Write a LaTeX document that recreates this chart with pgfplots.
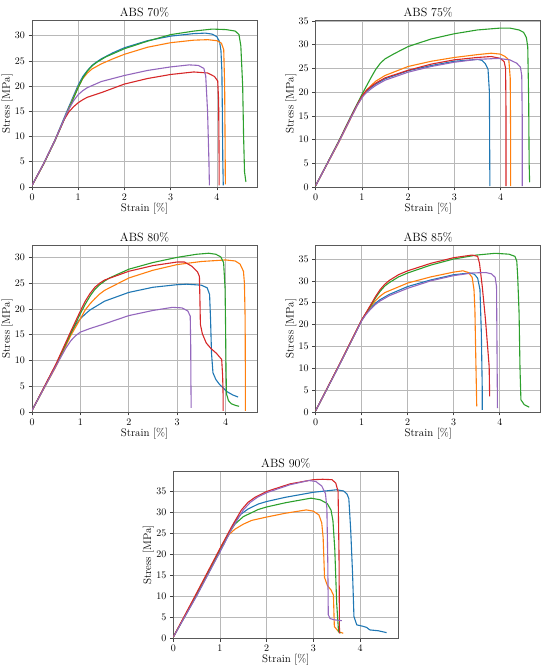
\documentclass[border=0pt]{standalone}
\usepackage{pgfplots}
\pgfplotsset{compat=1.18}
\definecolor{tblue}{HTML}{1F77B4}
\definecolor{torange}{HTML}{FF7F0E}
\definecolor{tgreen}{HTML}{2CA02C}
\definecolor{tred}{HTML}{D62728}
\definecolor{tpurple}{HTML}{9467BD}
\pgfplotsset{
  ss/.style={
    width=225pt, height=167pt, scale only axis,
    anchor=south west,
    xmin=0, ymin=0,
    xtick={0,1,2,3,4},
    grid=major,
    major grid style={color=black!28, line width=0.6pt},
    axis line style={color=black!65, line width=0.8pt},
    tick style={color=black!75, line width=0.6pt},
    tick align=outside,
    major tick length=3.5pt,
    xtick pos=bottom, ytick pos=left,
    tick label style={font=\fontsize{10}{12}\selectfont},
    label style={font=\fontsize{11}{13}\selectfont},
    title style={font=\fontsize{12}{14}\selectfont, yshift=-6.5pt},
    xlabel={Strain [\%]}, ylabel={Stress [MPa]},
    xlabel style={yshift=4.5pt},
    ylabel style={yshift=-4.5pt},
    every axis plot/.append style={line width=1.1pt, mark=none, line join=round},
  }
}
\begin{document}
\begin{tikzpicture}
\useasboundingbox (0,0) rectangle (550pt,670pt);
% ---------------- ABS 70
\begin{axis}[ss, at={(32pt,483pt)}, xmax=4.87, ymax=33.1, ytick={0,5,...,30}, title={ABS 70\%}]
\addplot[tblue] coordinates {(0,0.3) (0.25,4.6) (0.5,9.4) (0.75,14.9) (1.0,20.2) (1.1,21.9) (1.2,23.1) (1.3,24.1) (1.4,24.8) (1.5,25.4) (1.75,26.6) (2,27.6) (2.5,29.0) (3,29.9) (3.5,30.4) (3.75,30.5) (3.9,30.3) (4.0,29.8) (4.06,28.8) (4.09,27) (4.11,23) (4.12,15) (4.13,5) (4.14,0.3)};
\addplot[torange] coordinates {(0,0.3) (0.25,4.5) (0.5,9.3) (0.75,14.6) (1.0,19.8) (1.1,21.5) (1.2,22.6) (1.3,23.4) (1.4,23.9) (1.5,24.4) (1.75,25.4) (2,26.3) (2.5,27.7) (3,28.6) (3.5,29.1) (3.8,29.2) (4.0,29.0) (4.1,28.5) (4.15,27.2) (4.17,20) (4.18,8) (4.185,0.5)};
\addplot[tgreen] coordinates {(0,0.3) (0.25,4.5) (0.5,9.2) (0.75,14.5) (1.0,19.7) (1.1,21.6) (1.2,23.0) (1.3,24.0) (1.4,24.7) (1.6,25.8) (2,27.4) (2.5,28.9) (3,30.2) (3.5,30.9) (3.9,31.3) (4.2,31.2) (4.4,30.9) (4.48,30.2) (4.52,28) (4.56,20) (4.58,10) (4.6,3) (4.63,1)};
\addplot[tred] coordinates {(0,0.3) (0.25,4.6) (0.5,9.3) (0.7,13.4) (0.8,14.9) (0.9,15.9) (1.0,16.7) (1.1,17.3) (1.2,17.8) (1.5,18.7) (2,20.4) (2.5,21.5) (3,22.3) (3.5,22.8) (3.8,22.6) (3.95,21.9) (4.02,21.0) (4.04,17) (4.05,5) (4.05,0.3)};
\addplot[tpurple] coordinates {(0,0.3) (0.25,4.6) (0.5,9.3) (0.75,14.6) (0.9,17.1) (1.0,18.3) (1.1,19.1) (1.2,19.7) (1.5,20.9) (2,22.1) (2.5,23.1) (3,23.8) (3.4,24.2) (3.6,24.1) (3.72,23.5) (3.76,22) (3.8,15) (3.83,5) (3.84,0.3)};
\end{axis}
% ---------------- ABS 75
\begin{axis}[ss, at={(315.7pt,483pt)}, xmax=4.87, ymax=35.2, ytick={0,5,...,35}, title={ABS 75\%}]
\addplot[tblue] coordinates {(0,0.3) (0.5,9.6) (0.8,15.6) (0.9,17.5) (1.0,19.1) (1.05,19.7) (1.1,20.2) (1.2,21.0) (1.3,21.7) (1.5,22.8) (2,24.5) (2.5,25.6) (3,26.5) (3.5,26.9) (3.6,26.7) (3.67,26) (3.73,24.8) (3.76,20) (3.77,0.2)};
\addplot[torange] coordinates {(0,0.3) (0.5,9.4) (0.8,15.3) (0.9,17.2) (1.0,18.9) (1.05,19.7) (1.1,20.4) (1.2,21.4) (1.3,22.3) (1.5,23.5) (2,25.4) (2.5,26.5) (3,27.3) (3.5,27.9) (3.8,28.2) (4.0,28.0) (4.1,27.5) (4.18,26.8) (4.21,23) (4.22,10) (4.22,0.2)};
\addplot[tgreen] coordinates {(0,0.3) (0.5,9.7) (0.8,15.6) (1.0,19.5) (1.1,21.3) (1.2,23.1) (1.3,24.8) (1.4,26.1) (1.5,27.0) (1.7,28.1) (2,29.6) (2.5,31.2) (3,32.3) (3.5,33.1) (4.0,33.5) (4.2,33.5) (4.4,33.1) (4.5,32.6) (4.56,31.5) (4.59,29.5) (4.61,18) (4.62,5) (4.63,1)};
\addplot[tred] coordinates {(0,0.3) (0.5,9.6) (0.8,15.5) (0.9,17.4) (1.0,19.1) (1.05,19.8) (1.1,20.4) (1.2,21.2) (1.3,21.9) (1.5,23.0) (2,24.6) (2.5,25.9) (3,26.8) (3.5,27.3) (3.8,27.5) (4.0,27.1) (4.08,26.4) (4.11,25) (4.12,15) (4.12,0.2)};
\addplot[tpurple] coordinates {(0,0.3) (0.5,9.5) (0.8,15.3) (0.9,17.2) (1.0,18.8) (1.05,19.4) (1.1,19.9) (1.2,20.7) (1.3,21.4) (1.5,22.5) (2,24.2) (2.5,25.4) (3,26.3) (3.5,26.9) (3.95,27.1) (4.2,26.8) (4.35,26.1) (4.43,25.3) (4.46,23.5) (4.47,15) (4.47,0.2)};
\end{axis}
% ---------------- ABS 80
\begin{axis}[ss, at={(32pt,258pt)}, xmax=4.65, ymax=32.4, ytick={0,5,...,30}, title={ABS 80\%}]
\addplot[tblue] coordinates {(0,0.3) (0.5,9.2) (0.8,15.2) (0.9,16.9) (1.0,18.1) (1.1,19.0) (1.2,19.8) (1.5,21.5) (2,23.2) (2.5,24.2) (3,24.7) (3.2,24.8) (3.5,24.6) (3.62,24.1) (3.67,22.8) (3.69,18) (3.71,11.4) (3.74,7.6) (3.8,6.3) (3.88,5.3) (3.95,4.7) (4.02,4.0) (4.15,3.3) (4.26,2.9)};
\addplot[torange] coordinates {(0,0.3) (0.5,8.9) (0.8,14.8) (1.0,18.1) (1.1,19.8) (1.2,21.0) (1.3,22.0) (1.4,22.9) (1.5,23.6) (2,26.0) (2.5,27.5) (3,28.6) (3.5,29.2) (4.0,29.5) (4.2,29.3) (4.3,28.7) (4.37,27.3) (4.39,25) (4.405,18) (4.41,5) (4.41,0.2)};
\addplot[tgreen] coordinates {(0,0.3) (0.5,9.2) (0.8,15.2) (1.0,19.1) (1.1,20.9) (1.2,22.5) (1.3,23.8) (1.4,24.7) (1.5,25.4) (1.6,26.0) (2,27.7) (2.5,29.0) (3,30.0) (3.4,30.6) (3.65,30.8) (3.8,30.6) (3.9,30.1) (3.96,29.0) (3.99,24) (4.0,17) (4.01,8) (4.02,3.5) (4.06,2.2) (4.12,1.6) (4.2,1.3) (4.28,1.1)};
\addplot[tred] coordinates {(0,0.3) (0.5,9.4) (0.8,15.6) (1.0,19.6) (1.1,21.5) (1.2,23.0) (1.3,24.2) (1.4,25.0) (1.5,25.6) (2,27.3) (2.5,28.4) (3,29.1) (3.15,29.1) (3.3,28.3) (3.42,27.2) (3.46,26.3) (3.47,22) (3.48,17) (3.52,15.2) (3.6,13.4) (3.7,12.3) (3.81,11.4) (3.92,10.2) (3.94,7) (3.95,3) (3.95,0.2)};
\addplot[tpurple] coordinates {(0,0.3) (0.5,9.0) (0.7,12.4) (0.8,13.8) (0.9,14.8) (1.0,15.5) (1.2,16.2) (1.5,17.1) (2,18.7) (2.5,19.7) (2.9,20.3) (3.1,20.2) (3.22,19.6) (3.27,18.6) (3.28,13) (3.285,5) (3.29,0.8)};
\end{axis}
% ---------------- ABS 85
\begin{axis}[ss, at={(315.7pt,258pt)}, xmax=4.89, ymax=38.2, ytick={0,5,...,35}, title={ABS 85\%}]
\addplot[tblue] coordinates {(0,0.3) (0.5,10.5) (1.0,21.0) (1.1,22.6) (1.2,23.9) (1.3,24.9) (1.4,25.7) (1.6,26.9) (2,28.7) (2.5,30.2) (3,31.4) (3.35,31.8) (3.45,31.5) (3.52,30.6) (3.57,28) (3.6,18) (3.62,5) (3.62,0.5)};
\addplot[torange] coordinates {(0,0.3) (0.5,10.5) (1.0,21.0) (1.1,22.7) (1.2,24.2) (1.3,25.5) (1.4,26.5) (1.5,27.3) (2,29.5) (2.5,30.9) (3,32.0) (3.2,32.3) (3.32,31.9) (3.4,30.8) (3.44,28) (3.46,23.4) (3.48,12) (3.5,1.3)};
\addplot[tgreen] coordinates {(0,0.3) (0.5,10.5) (1.0,21.0) (1.1,22.7) (1.2,24.4) (1.3,26.1) (1.4,27.6) (1.5,28.8) (1.6,29.6) (1.8,30.9) (2,31.8) (2.5,33.6) (3,35.0) (3.5,35.9) (3.9,36.3) (4.2,36.1) (4.33,35.6) (4.37,34.5) (4.39,31) (4.42,22.6) (4.44,10) (4.46,2.8) (4.53,1.7) (4.64,1.1)};
\addplot[tred] coordinates {(0,0.3) (0.5,10.6) (1.0,21.1) (1.1,22.8) (1.2,24.6) (1.3,26.4) (1.4,28.0) (1.5,29.2) (1.6,30.1) (1.8,31.4) (2,32.3) (2.5,34.0) (3,35.3) (3.4,35.9) (3.52,35.6) (3.56,34) (3.62,28.7) (3.69,21.1) (3.77,10.4) (3.78,3.6)};
\addplot[tpurple] coordinates {(0,0.3) (0.5,10.4) (1.0,20.9) (1.1,22.4) (1.2,23.6) (1.3,24.6) (1.4,25.4) (1.6,26.6) (2,28.3) (2.5,30.0) (3,31.2) (3.4,31.8) (3.7,31.9) (3.82,31.6) (3.9,30.8) (3.93,28.7) (3.94,15) (3.95,0.9)};
\end{axis}
% ---------------- ABS 90
\begin{axis}[ss, at={(173.3pt,31.7pt)}, xmax=4.82, ymax=39.8, ytick={0,5,...,35}, title={ABS 90\%}]
\addplot[tblue] coordinates {(0,0.3) (0.5,10.2) (1.0,20.7) (1.1,22.8) (1.2,25.0) (1.32,27.8) (1.45,29.6) (1.6,30.8) (1.82,32.0) (2,32.6) (2.4,33.6) (3,34.8) (3.5,35.4) (3.65,35.1) (3.72,34.4) (3.76,33.3) (3.8,25.9) (3.84,15.5) (3.87,5.2) (3.93,3.2) (4.05,2.9) (4.14,2.6) (4.21,2.0) (4.39,1.8) (4.57,1.35)};
\addplot[torange] coordinates {(0,0.3) (0.5,10.6) (1.0,21.2) (1.05,22.4) (1.11,23.5) (1.2,24.8) (1.32,26.0) (1.5,27.2) (1.68,28.1) (2,28.9) (2.4,29.8) (2.85,30.6) (3.0,30.3) (3.12,29.4) (3.18,27.5) (3.21,24) (3.24,14.5) (3.3,12.6) (3.38,11.5) (3.43,10.3) (3.45,2.8) (3.54,1.6) (3.64,1.2)};
\addplot[tgreen] coordinates {(0,0.3) (0.5,10.4) (1.0,21.0) (1.1,23.2) (1.2,25.2) (1.32,27.2) (1.5,29.0) (1.82,30.7) (2,31.3) (2.4,32.3) (2.95,33.4) (3.15,33.0) (3.3,32.1) (3.38,30.5) (3.42,28) (3.46,21.1) (3.5,8.4) (3.54,1.6) (3.58,1.2)};
\addplot[tred] coordinates {(0,0.3) (0.5,10.8) (1.0,21.4) (1.25,26.6) (1.46,30.6) (1.6,32.4) (1.75,33.6) (2,35.0) (2.5,36.8) (3,37.8) (3.2,37.9) (3.4,37.8) (3.48,37.0) (3.53,35) (3.55,20) (3.56,1.2)};
\addplot[tpurple] coordinates {(0,0.3) (0.5,10.1) (1.0,20.6) (1.25,26.0) (1.5,30.6) (1.65,32.4) (1.8,33.6) (2,34.7) (2.5,36.6) (2.9,37.6) (3.05,37.4) (3.18,36.3) (3.26,34.5) (3.29,31) (3.31,17.9) (3.32,5.6) (3.36,4.7) (3.45,4.4) (3.61,4.2)};
\end{axis}
\end{tikzpicture}
\end{document}
